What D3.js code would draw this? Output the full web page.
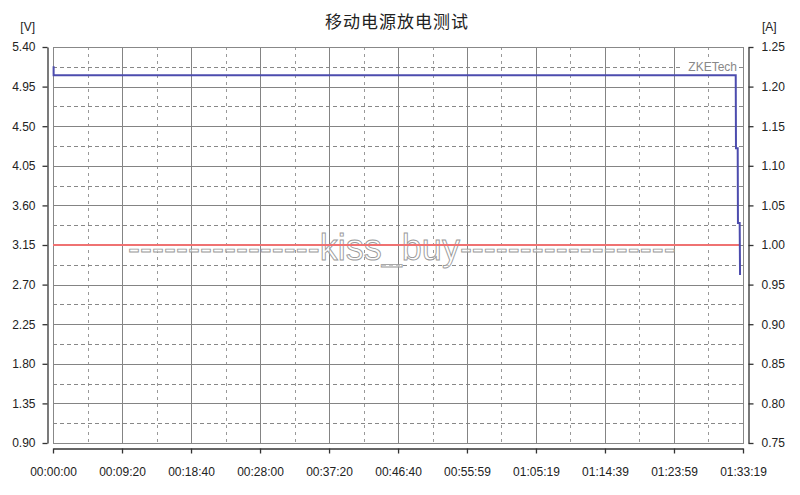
<!DOCTYPE html>
<html><head><meta charset="utf-8">
<script src="https://cdn.jsdelivr.net/npm/d3@7"></script>
<style>
html,body{margin:0;padding:0;background:#fff;}
svg{display:block;}
text{font-family:"Liberation Sans",Arial,sans-serif;}
</style></head>
<body>
<svg id="c" width="800" height="495"></svg>
<script>
// ---- data ----
const title = "移动电源放电测试";
const timeLabels = ["00:00:00","00:09:20","00:18:40","00:28:00","00:37:20","00:46:40","00:55:59","01:05:19","01:14:39","01:23:59","01:33:19"];
const voltTicks = [0.90,1.35,1.80,2.25,2.70,3.15,3.60,4.05,4.50,4.95,5.40];
const ampTicks = [0.75,0.80,0.85,0.90,0.95,1.00,1.05,1.10,1.15,1.20,1.25];
// voltage series (seconds, V)
const voltT = [5, 5, 5540, 5542, 5556, 5558, 5572, 5575];
const voltV = [5.18, 5.08, 5.08, 4.25, 4.25, 3.40, 3.40, 2.81];
// current series (seconds, A)
const ampT = [0, 5575];
const ampA = [1.00, 1.00];

const toSec = s => { const p = s.split(":").map(Number); return p[0]*3600+p[1]*60+p[2]; };
const timeTicks = timeLabels.map(toSec);

const svg = d3.select("#c");
const L = 53, R = 743, T = 47, B = 443;
const x = d3.scaleLinear().domain([0, d3.max(timeTicks)]).range([L, R]);
const yV = d3.scaleLinear().domain([0.90, 5.40]).range([B, T]);
const yA = d3.scaleLinear().domain([0.75, 1.25]).range([B, T]);

// title
svg.append("text").attr("x", 397).attr("y", 28).attr("text-anchor","middle")
  .style("font-family",'"Noto Sans CJK SC","Noto Sans",sans-serif').style("font-size","17px")
  .style("letter-spacing","1px").attr("fill","#222").text(title);
svg.append("text").attr("x", 35).attr("y", 31).attr("text-anchor","end").style("font-size","12px").attr("fill","#222").text("[V]");
svg.append("text").attr("x", 762).attr("y", 31).style("font-size","12px").attr("fill","#222").text("[A]");

const g = svg.append("g");
// minor grid (dashed)
const minorX = timeTicks.slice(0,-1).map((t,i)=>(t+timeTicks[i+1])/2);
const minorY = voltTicks.slice(0,-1).map((v,i)=>(v+voltTicks[i+1])/2);
g.selectAll(".mx").data(minorX).join("line")
  .attr("x1",d=>Math.round(x(d))+0.5).attr("x2",d=>Math.round(x(d))+0.5).attr("y1",T).attr("y2",B)
  .attr("stroke","#999").attr("stroke-dasharray","3,4");
g.selectAll(".my").data(minorY).join("line")
  .attr("y1",d=>Math.round(yV(d))+0.5).attr("y2",d=>Math.round(yV(d))+0.5).attr("x1",L).attr("x2",R)
  .attr("stroke","#888").attr("stroke-dasharray","4,3");
// major grid
g.selectAll(".gx").data(timeTicks).join("line")
  .attr("x1",d=>Math.round(x(d))+0.5).attr("x2",d=>Math.round(x(d))+0.5).attr("y1",T).attr("y2",B)
  .attr("stroke","#848484");
g.selectAll(".gy").data(voltTicks).join("line")
  .attr("y1",d=>Math.round(yV(d))+0.5).attr("y2",d=>Math.round(yV(d))+0.5).attr("x1",L).attr("x2",R)
  .attr("stroke","#848484");
// frame
g.append("rect").attr("x",L+0.5).attr("y",T+0.5).attr("width",R-L).attr("height",B-T)
  .attr("fill","none").attr("stroke","#888");

// ZKETech label
const zk = g.append("g");
zk.append("rect").attr("x",681).attr("y",59).attr("width",57).attr("height",14).attr("fill","#fff");
zk.append("text").attr("x",737).attr("y",71).attr("text-anchor","end").style("font-size","12px").attr("fill","#888").text("ZKETech");

// watermark
svg.append("text").attr("x",128).attr("y",260)
  .style("font-family",'"Liberation Sans",Arial,sans-serif').style("font-size","36px")
  .attr("fill","#fff").attr("fill-opacity",0.55).attr("stroke","#999").attr("stroke-width",0.9)
  .text("-".repeat(16) + "kiss_buy" + "-".repeat(18));

// series
const lineV = d3.line().x(d=>x(d[0])).y(d=>yV(d[1]));
const lineA = d3.line().x(d=>x(d[0])).y(d=>yA(d[1]));
svg.append("path").datum(ampT.map((t,i)=>[t,ampA[i]])).attr("d",lineA)
  .attr("fill","none").attr("stroke","#ef7272").attr("stroke-width",2);
svg.append("path").datum(voltT.map((t,i)=>[t,voltV[i]])).attr("d",lineV)
  .attr("fill","none").attr("stroke","#4c4cae").attr("stroke-width",2);

// axes
const ax = "#333";
const left = svg.append("g").attr("transform","translate(47.5,0)")
  .call(d3.axisLeft(yV).tickValues(voltTicks).tickFormat(d3.format(".2f")).tickSize(5).tickPadding(7).tickSizeOuter(0));
const right = svg.append("g").attr("transform","translate(748.5,0)")
  .call(d3.axisRight(yA).tickValues(ampTicks).tickFormat(d3.format(".2f")).tickSize(5).tickPadding(8).tickSizeOuter(0));
const bottom = svg.append("g").attr("transform","translate(0,448.5)")
  .call(d3.axisBottom(x).tickValues(timeTicks).tickFormat((d,i)=>timeLabels[i]).tickSize(5).tickPadding(14).tickSizeOuter(0));
[left,right,bottom].forEach(a=>{
  a.selectAll("path,line").attr("stroke",ax).attr("stroke-width",1.3);
  a.selectAll("text").style("font-size","12px").attr("fill","#222").style("font-family",'"Liberation Sans",Arial,sans-serif');
});
</script>
</body></html>
